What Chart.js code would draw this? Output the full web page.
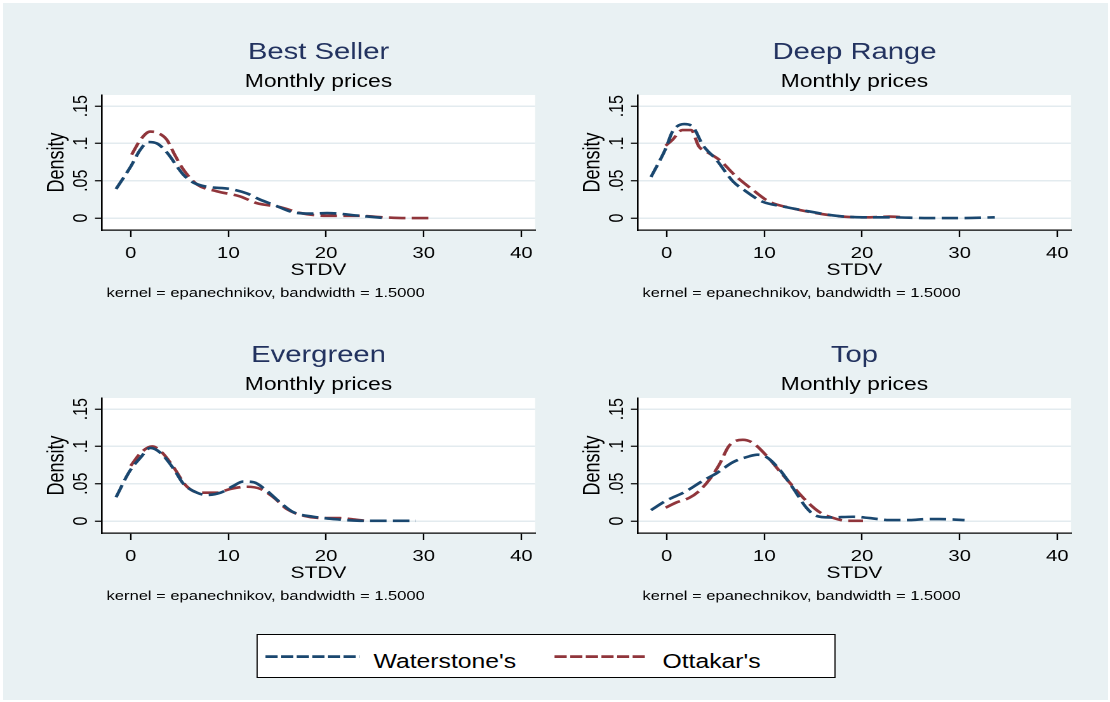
<!DOCTYPE html>
<html>
<head>
<meta charset="utf-8">
<script src="https://cdn.jsdelivr.net/npm/chart.js@4.4.1/dist/chart.umd.min.js"></script>
<style>
  html, body { margin: 0; padding: 0; background: #fff; }
  body { width: 1110px; height: 702px; overflow: hidden; position: relative; font-family: "Liberation Sans", Arial, sans-serif; }
  #bg { position: absolute; left: 3px; top: 3px; width: 1105px; height: 697px; background: #e9f1f3; }
  /* the reference is a stretched Stata graph, so draw narrow and stretch sideways */
  #stage { position: absolute; left: 0; top: 0; width: 874px; height: 702px; transform-origin: 0 0; transform: scaleX(1.27); }
  .panel { position: absolute; width: 437px; height: 310px; }
  #legend { position: absolute; left: 202.4px; top: 634px; width: 456px; height: 44px; background: #fff; border: 1px solid #000; box-sizing: border-box; }
</style>
</head>
<body>
<div id="bg"></div>
<div id="stage">
  <div class="panel" style="left:0;top:0"><canvas id="c0" width="437" height="310"></canvas></div>
  <div class="panel" style="left:421.5px;top:0"><canvas id="c1" width="437" height="310"></canvas></div>
  <div class="panel" style="left:0;top:303px"><canvas id="c2" width="437" height="310"></canvas></div>
  <div class="panel" style="left:421.5px;top:303px"><canvas id="c3" width="437" height="310"></canvas></div>
  <div id="legend">
    <svg width="456" height="44" style="position:absolute;left:-1px;top:-1px">
      <line x1="7" y1="22.7" x2="81" y2="22.7" stroke="#1a476f" stroke-width="2.8" stroke-dasharray="9.6 2.7"/>
      <text x="92.1" y="33.7" font-family="Liberation Sans, Arial" font-size="19.5" fill="#000">Waterstone's</text>
      <line x1="234.6" y1="22.7" x2="307.6" y2="22.7" stroke="#90353b" stroke-width="2.8" stroke-dasharray="9.6 2.7"/>
      <text x="319.6" y="33.7" font-family="Liberation Sans, Arial" font-size="19.5" fill="#000">Ottakar's</text>
    </svg>
  </div>
</div>

<script>
// ------------------- DATA -------------------
const panelTitles = ["Best Seller", "Deep Range", "Evergreen", "Top"];
const subtitle = "Monthly prices";
const xTitle = "STDV";
const yTitle = "Density";
const noteText = "kernel = epanechnikov, bandwidth = 1.5000";
const seriesNames = ["Waterstone's", "Ottakar's"];

const xTicks = [0, 10, 20, 30, 40];
const xTickLabels = ["0", "10", "20", "30", "40"];
const yTicks = [0, 0.05, 0.1, 0.15];
const yTickLabels = ["0", ".05", ".1", ".15"];

// [STDV, density] pairs
const bestSellerWaterstones = [[-1.5,.039],[0,.069],[1,.092],[1.8,.102],[2.7,.100],[3.7,.088],[5.4,.058],[6.5,.047],[7.8,.042],[10.2,.039],[11.9,.033],[13.2,.025],[14.6,.018],[16.7,.0076],[18.5,.006],[20.1,.0067],[23.5,.003],[26,0]];
const bestSellerOttakars = [[0.1,.085],[1,.105],[2,.116],[2.8,.114],[3.7,.105],[4.5,.085],[5.4,.065],[6.8,.045],[8.8,.036],[11.2,.029],[12.9,.020],[15.3,.0147],[17.4,.0067],[20.1,.003],[23.5,.003],[25.9,.001],[28.3,0],[30.9,0]];

const deepRangeWaterstones = [[-1.6,.055],[-0.1,.093],[0.6,.116],[1.8,.126],[2.7,.122],[3.7,.098],[5.1,.078],[6.8,.049],[8.1,.036],[9.8,.022],[11.9,.0156],[14.6,.0089],[17.4,.003],[20.1,.001],[22.8,.001],[26.9,0],[30,0],[33.6,.001]];
const deepRangeOttakars = [[-0.1,.097],[0.6,.105],[1.6,.118],[2.5,.118],[3.3,.096],[4.2,.088],[5.4,.078],[7.1,.056],[8.8,.038],[10.5,.022],[12.9,.013],[15.3,.0067],[18,.002],[20.8,.001],[22.8,.002],[24.4,.001]];

const evergreenWaterstones = [[-1.5,.032],[-0.1,.067],[1,.085],[2,.098],[3,.092],[4.4,.070],[5.4,.050],[6.8,.038],[7.8,.035],[9.2,.038],[10.5,.047],[11.5,.053],[12.6,.052],[13.9,.041],[15.3,.025],[16.7,.0116],[18.7,.0058],[20.8,.0027],[23.5,.0004],[26.9,.0004],[29.2,.0004]];
const evergreenOttakars = [[0,.074],[1,.091],[2.2,.1],[3.2,.092],[4.4,.072],[5.7,.047],[7.1,.038],[8.8,.038],[10.2,.043],[11.9,.046],[13.3,.043],[14.6,.032],[16,.016],[17.7,.0071],[19.7,.004],[21.4,.004],[22.8,.0022],[24,.0004]];

const topWaterstones = [[-1.6,.0147],[-0.1,.027],[2,.040],[3.7,.054],[5.1,.064],[6.8,.079],[8.5,.087],[9.3,.089],[10.2,.086],[11.5,.070],[12.9,.045],[14.3,.018],[15.3,.0071],[16.7,.0049],[19.1,.0058],[20.8,.004],[22.8,.0013],[24.9,.0013],[26.6,.0027],[27.9,.0027],[30.5,.0013]];
const topOttakars = [[-0.1,.018],[1,.025],[2.3,.031],[3.3,.040],[4.4,.056],[5.4,.076],[6.4,.101],[7.8,.109],[8.8,.105],[10.2,.088],[11.5,.068],[12.9,.047],[14.3,.027],[15.7,.0116],[17.1,.004],[18.4,.0004],[20.1,.0004]];

const panelSeries = [
  [bestSellerWaterstones, bestSellerOttakars],
  [deepRangeWaterstones, deepRangeOttakars],
  [evergreenWaterstones, evergreenOttakars],
  [topWaterstones, topOttakars]
];

// ------------------- STYLE -------------------
const FONT = '"Liberation Sans", Arial, sans-serif';
const seriesColors = ["#1a476f", "#90353b"];
const titleColor = "#22325f";
const gridColor = "#e3ebef";

// white plot region + all the Stata-style texts
const panelText = {
  id: "panelText",
  beforeDraw(chart) {
    const { ctx, chartArea: a } = chart;
    ctx.save();
    ctx.fillStyle = "#fff";
    ctx.fillRect(a.left, a.top, a.right - a.left, a.bottom - a.top);
    ctx.restore();
  },
  afterDraw(chart, args, opts) {
    const { ctx, chartArea: a, scales } = chart;
    const cx = (a.left + a.right) / 2;
    ctx.save();
    ctx.textAlign = "center";
    ctx.textBaseline = "alphabetic";
    ctx.fillStyle = titleColor;
    ctx.font = "23px " + FONT;
    ctx.fillText(opts.title, cx, 59);
    ctx.fillStyle = "#000";
    ctx.font = "18px " + FONT;
    ctx.fillText(subtitle, cx, 87);
    ctx.font = "16.5px " + FONT;
    ctx.fillText(xTitle, cx, 275);
    ctx.textAlign = "left";
    ctx.font = "13px " + FONT;
    ctx.fillText(noteText, a.left + 3.6, 297);

    // rotated y tick labels
    ctx.textAlign = "center";
    ctx.textBaseline = "middle";
    ctx.font = "16px " + FONT;
    scales.y.ticks.forEach((t) => {
      const py = scales.y.getPixelForValue(t.value);
      ctx.save();
      ctx.translate(a.left - 16.1, py);
      ctx.rotate(-Math.PI / 2);
      ctx.fillText(yTickLabels[yTicks.indexOf(t.value)], 0, 0);
      ctx.restore();
    });
    ctx.font = "18px " + FONT;
    ctx.translate(a.left - 35.4, (a.top + a.bottom) / 2);
    ctx.rotate(-Math.PI / 2);
    ctx.fillText(yTitle, 0, 0);
    ctx.restore();
  }
};

// ------------------- CHARTS -------------------
panelSeries.forEach((series, p) => {
  new Chart(document.getElementById("c" + p), {
    type: "line",
    data: {
      datasets: series.map((pts, s) => ({
        label: seriesNames[s],
        data: pts.map(([x, y]) => ({ x, y })),
        borderColor: seriesColors[s],
        borderWidth: 2.6,
        borderDash: [13, 5],
        pointRadius: 0,
        cubicInterpolationMode: "monotone",
        fill: false
      }))
    },
    options: {
      responsive: false,
      animation: false,
      devicePixelRatio: 2,
      layout: { padding: { top: 95, right: 15.7, left: 0, bottom: 0 } },
      scales: {
        x: {
          type: "linear",
          min: -2.94,
          max: 41.4,
          afterBuildTicks: (scale) => { scale.ticks = xTicks.map(v => ({ value: v })); },
          afterFit: (scale) => { scale.height = 80; },
          ticks: {
            color: "#000",
            font: { family: FONT, size: 16 },
            padding: 7,
            maxRotation: 0,
            callback: (v) => xTickLabels[xTicks.indexOf(v)]
          },
          grid: { drawOnChartArea: false, drawTicks: true, tickLength: 7, tickColor: "#000", tickWidth: 1.2 },
          border: { display: true, color: "#000", width: 1.3 }
        },
        y: {
          type: "linear",
          min: -0.016,
          max: 0.165,
          afterBuildTicks: (scale) => { scale.ticks = yTicks.map(v => ({ value: v })); },
          afterFit: (scale) => { scale.width = 80.3; },
          ticks: { display: false },
          grid: { color: gridColor, lineWidth: 1.5, drawTicks: true, tickLength: 5.5, tickColor: "#000", tickWidth: 1.2 },
          border: { display: true, color: "#000", width: 1.3 }
        }
      },
      plugins: {
        legend: { display: false },
        tooltip: { enabled: false },
        panelText: { title: panelTitles[p] }
      }
    },
    plugins: [panelText]
  });
});
</script>
</body>
</html>
